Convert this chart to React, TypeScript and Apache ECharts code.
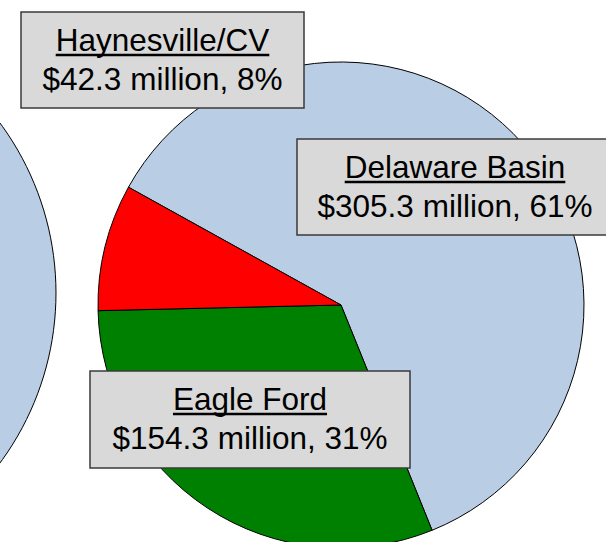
import React, { useEffect, useRef } from 'react';
import * as echarts from 'echarts';

// ---- data ----
const sliceNames = ['Delaware Basin', 'Eagle Ford', 'Haynesville/CV'];
const sliceValues = [305.3, 154.3, 42.3]; // $ million
const sliceColors = ['#B9CDE5', '#008000', '#FF0000'];
const neighbourPieNames = ['Neighbouring pie'];
const neighbourPieValues = [1];

// ---- layout ----
const W = 606;
const H = 542;
const FONT = '"Liberation Sans", Arial, Helvetica, sans-serif';
const FS = 31.5;
const boxLayout = [
  { x: 297, y: 139, w: 316, h: 96 },
  { x: 90, y: 371, w: 320, h: 97 },
  { x: 21, y: 12, w: 283, h: 96 },
];

function measure(t: string): number {
  const ctx = document.createElement('canvas').getContext('2d');
  if (!ctx) return t.length * FS * 0.55;
  ctx.font = `${FS}px ${FONT}`;
  return ctx.measureText(t).width;
}

export default function App() {
  const ref = useRef<HTMLDivElement>(null);

  useEffect(() => {
    if (!ref.current) return;
    const chart = echarts.init(ref.current, undefined, { renderer: 'svg' });
    const total = sliceValues.reduce((a, b) => a + b, 0);

    const graphics = sliceNames.map((name, i) => {
      const b = boxLayout[i];
      const cx = b.x + b.w / 2;
      const pct = Math.round((sliceValues[i] / total) * 100);
      const line2 = `$${sliceValues[i].toFixed(1)} million, ${pct}%`;
      const base1 = b.y + 39;
      const base2 = b.y + 78;
      const uw = measure(name);
      return {
        type: 'group',
        z: 100,
        children: [
          {
            type: 'rect',
            z: 100,
            shape: { x: b.x, y: b.y, width: b.w, height: b.h },
            style: { fill: '#D9D9D9', stroke: '#3a3a3a', lineWidth: 1.5 },
          },
          {
            type: 'text',
            z: 101,
            x: cx,
            y: base1 - 11,
            style: {
              text: name,
              fill: '#000',
              fontSize: FS,
              fontFamily: FONT,
              align: 'center',
              verticalAlign: 'middle',
            },
          },
          {
            type: 'line',
            z: 101,
            shape: { x1: cx - uw / 2, y1: base1 + 4, x2: cx + uw / 2, y2: base1 + 4 },
            style: { stroke: '#000', lineWidth: 2.5 },
          },
          {
            type: 'text',
            z: 101,
            x: cx,
            y: base2 - 11,
            style: {
              text: line2,
              fill: '#000',
              fontSize: FS,
              fontFamily: FONT,
              align: 'center',
              verticalAlign: 'middle',
            },
          },
        ],
      };
    });

    chart.setOption({
      animation: false,
      backgroundColor: '#ffffff',
      series: [
        {
          type: 'pie',
          z: 1,
          center: [-230, 293],
          radius: 286,
          silent: true,
          label: { show: false },
          labelLine: { show: false },
          emphasis: { disabled: true },
          itemStyle: { color: '#B9CDE5', borderColor: '#000', borderWidth: 1 },
          data: neighbourPieValues.map((v, i) => ({ name: neighbourPieNames[i], value: v })),
        },
        {
          type: 'pie',
          z: 1,
          center: [341, 305],
          radius: 243,
          startAngle: 151,
          clockwise: true,
          silent: true,
          label: { show: false },
          labelLine: { show: false },
          emphasis: { disabled: true },
          itemStyle: { borderColor: '#000', borderWidth: 1 },
          data: sliceValues.map((v, i) => ({
            name: sliceNames[i],
            value: v,
            itemStyle: { color: sliceColors[i] },
          })),
        },
      ],
      graphic: graphics,
    });

    return () => chart.dispose();
  }, []);

  return (
    <div
      ref={ref}
      style={{ position: 'fixed', left: 0, top: 0, width: W, height: H, background: '#fff' }}
    />
  );
}
